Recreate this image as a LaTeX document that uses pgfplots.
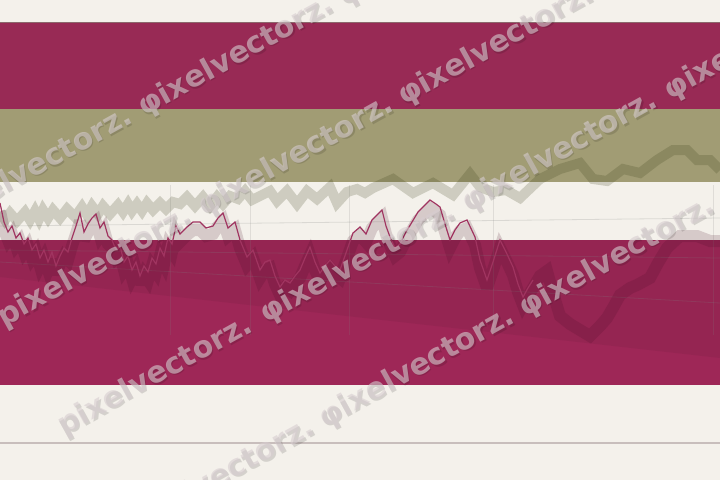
\documentclass[border=0pt]{standalone}
\usepackage{pgfplots}
\pgfplotsset{compat=1.18}
\usepackage{pgfplotstable}
\usepackage{fontspec}
\usetikzlibrary{calc}
\newfontfamily\wmfont{DejaVu Sans}

\definecolor{cream}{RGB}{244,241,235}
\definecolor{topred}{RGB}{152,42,85}
\definecolor{olive}{RGB}{161,156,116}
\definecolor{lowred}{RGB}{158,39,87}
\definecolor{edge}{RGB}{140,104,108}
\definecolor{baseln}{RGB}{200,190,188}
\definecolor{bandA}{RGB}{55,60,20}
\definecolor{shadowB}{RGB}{70,10,35}
\definecolor{lineB}{RGB}{160,52,96}
\definecolor{wmark}{RGB}{215,205,208}

% grey zigzag band (pixel coordinates, y downwards)
\pgfplotstableread{
x y
0 212
5 220
10 213
17 221
25 212
30 220
35 211
39 219
43 210
48 218
53 210
60 218
67 209
75 217
82 207
87 215
92 206
98 214
103 206
110 214
118 205
123 212
128 204
132 211
137 204
142 211
147 203
153 210
160 203
166 209
173 202
180 204
187 197
195 206
203 197
210 206
217 197
223 204
230 196
238 199
245 191
252 200
260 196
270 191
277 201
287 191
297 204
307 191
317 199
330 187
337 203
347 192
357 189
365 193
373 188
393 179
413 193
433 183
453 195
470 174
480 187
493 192
506 190
520 198
540 179
560 169
580 163
593 179
607 181
623 169
640 173
657 160
673 150
687 150
697 160
710 160
720 170
}\seriesA

% crimson line with its dark shadow band
\pgfplotstableread{
x y
0 203
4 222
8 232
12 226
16 238
20 233
24 244
28 238
32 250
36 244
40 258
44 250
48 262
52 252
56 266
60 256
64 248
68 252
72 238
76 226
80 213
84 232
88 224
92 218
96 214
100 228
104 222
108 236
112 240
116 250
120 246
124 262
128 256
132 270
136 262
140 276
144 266
148 272
152 258
156 264
160 248
164 256
168 238
172 244
176 226
180 234
187 227
193 222
200 222
206 228
213 226
218 218
223 213
228 228
235 222
240 240
247 257
253 250
260 270
265 262
270 260
275 276
280 287
285 280
290 283
295 276
300 270
305 258
310 247
315 262
320 273
325 266
330 260
335 266
340 270
347 250
353 233
360 227
366 234
372 220
378 214
382 210
386 226
390 237
395 248
400 244
406 232
412 222
418 212
424 206
430 200
436 204
440 207
445 224
450 240
455 230
460 223
467 220
475 237
480 260
487 280
493 262
500 240
506 252
513 267
518 284
523 297
528 288
533 280
540 268
547 263
553 285
560 308
570 316
580 322
590 328
600 318
607 310
614 298
620 287
630 280
637 277
650 270
658 255
667 240
680 228
697 228
710 233
720 233
}\seriesB

\newcommand\wmword[3]{%
  \node[anchor=west,rotate=29,inner sep=0pt,text=black,opacity=0.13,text opacity=0.13,
        font=\wmfont\bfseries\fontsize{30}{30}\selectfont]
        at ($(axis cs:#1,{#2-0.554*(#1)})+(1.3bp,-1.5bp)$) {#3};
  \node[anchor=west,rotate=29,inner sep=0pt,text=wmark,opacity=0.6,text opacity=0.6,
        font=\wmfont\bfseries\fontsize{30}{30}\selectfont]
        at (axis cs:#1,{#2-0.554*(#1)}) {#3};}

\begin{document}
\begin{tikzpicture}
\useasboundingbox (0,0) rectangle (720bp,480bp);
\clip (0,0) rectangle (720bp,480bp);
\begin{axis}[
  scale only axis,
  width=720bp, height=480bp,
  xmin=0, xmax=720, ymin=0, ymax=480,
  y dir=reverse,
  hide axis,
  clip=true,
]
% background and horizontal bands
\addplot[fill=cream, draw=none] coordinates {(0,0)(720,0)(720,480)(0,480)} -- cycle;
\addplot[fill=topred, draw=none] coordinates {(0,22)(720,22)(720,108.5)(0,108.5)} -- cycle;
\addplot[fill=olive, draw=none] coordinates {(0,108.5)(720,108.5)(720,182)(0,182)} -- cycle;
\addplot[fill=lowred, draw=none] coordinates {(0,240)(720,240)(720,385)(0,385)} -- cycle;
\addplot[fill=black, fill opacity=0.05, draw=none] coordinates {(0,240)(720,240)(720,358)(0,277)} -- cycle;
\addplot[edge, line width=1bp] coordinates {(0,22)(720,22)};
\addplot[baseln, line width=1.2bp] coordinates {(0,443)(720,443)};

% faint grid lines
\addplot[gray, opacity=0.22, line width=0.8bp] coordinates {(0,226)(720,218)};
\addplot[gray, opacity=0.22, line width=0.8bp] coordinates {(0,250)(720,258)};
\addplot[gray, opacity=0.22, line width=0.8bp] coordinates {(0,262)(720,303)};
\addplot[gray, opacity=0.18, line width=0.8bp] coordinates {(170,185)(170,335)};
\addplot[gray, opacity=0.18, line width=0.8bp] coordinates {(250,185)(250,335)};
\addplot[gray, opacity=0.18, line width=0.8bp] coordinates {(349,185)(349,335)};
\addplot[gray, opacity=0.18, line width=0.8bp] coordinates {(493,185)(493,335)};
\addplot[gray, opacity=0.18, line width=0.8bp] coordinates {(713,185)(713,335)};

% series
\addplot[bandA, opacity=0.2, line width=10bp, line join=miter, miter limit=3] table[x=x,y=y] {\seriesA};
\addplot[shadowB, opacity=0.17, line width=12bp, line join=miter, miter limit=3] table[x=x,y expr=\thisrow{y}+8] {\seriesB};
\addplot[lineB, line width=1.2bp, restrict x to domain=0:535] table[x=x,y=y] {\seriesB};

% watermark
\wmword{-60}{187}{pixelvectorz.}
\wmword{140}{187}{φixelvectorz.}
\wmword{340}{187}{φixelvectorz.}
\wmword{0}{320}{pixelvectorz.}
\wmword{200}{320}{φixelvectorz.}
\wmword{400}{320}{φixelvectorz.}
\wmword{600}{320}{φixelvectorz.}
\wmword{60}{462}{pixelvectorz.}
\wmword{262}{462}{φixelvectorz.}
\wmword{464}{462}{φixelvectorz.}
\wmword{666}{462}{φixelvectorz.}
\wmword{-79}{599}{pixelvectorz.}
\wmword{121}{599}{φixelvectorz.}
\wmword{321}{599}{φixelvectorz.}
\wmword{521}{599}{φixelvectorz.}
\end{axis}
\end{tikzpicture}
\end{document}
